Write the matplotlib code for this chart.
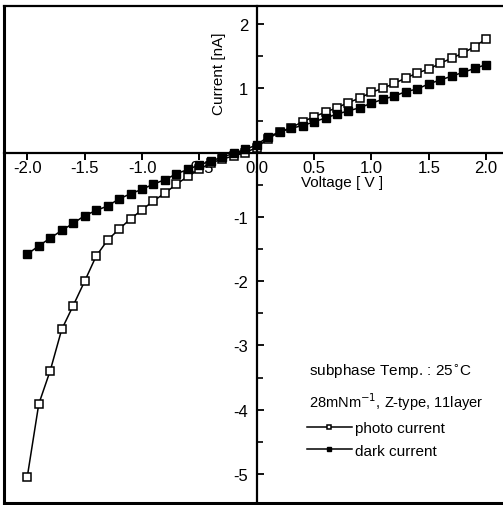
import matplotlib
matplotlib.use("Agg")
import matplotlib.pyplot as plt
from matplotlib.ticker import MultipleLocator

plt.rcParams['font.family'] = ['Liberation Sans', 'DejaVu Sans']
plt.rcParams['axes.unicode_minus'] = False

# voltage steps (V)
voltage = [-2.0, -1.9, -1.8, -1.7, -1.6, -1.5, -1.4, -1.3, -1.2, -1.1, -1.0,
           -0.9, -0.8, -0.7, -0.6, -0.5, -0.4, -0.3, -0.2, -0.1, 0.0,
           0.1, 0.2, 0.3, 0.4, 0.5, 0.6, 0.7, 0.8, 0.9, 1.0,
           1.1, 1.2, 1.3, 1.4, 1.5, 1.6, 1.7, 1.8, 1.9, 2.0]

# currents (nA)
photo_current = [-5.04, -3.91, -3.39, -2.75, -2.38, -2.00, -1.61, -1.36, -1.19, -1.03, -0.89,
                 -0.75, -0.63, -0.49, -0.37, -0.26, -0.16, -0.10, -0.05, 0.00, 0.08,
                 0.22, 0.32, 0.39, 0.48, 0.56, 0.63, 0.70, 0.78, 0.85, 0.94,
                 1.00, 1.08, 1.16, 1.24, 1.30, 1.39, 1.47, 1.55, 1.65, 1.77]
dark_current = [-1.58, -1.45, -1.33, -1.21, -1.10, -0.98, -0.90, -0.83, -0.72, -0.64, -0.57,
                -0.49, -0.42, -0.33, -0.26, -0.19, -0.13, -0.07, -0.01, 0.05, 0.12,
                0.25, 0.32, 0.38, 0.42, 0.48, 0.54, 0.60, 0.65, 0.70, 0.77,
                0.83, 0.88, 0.95, 0.99, 1.07, 1.13, 1.19, 1.25, 1.31, 1.37]

x_ticks = [-2.0, -1.5, -1.0, -0.5, 0.0, 0.5, 1.0, 1.5, 2.0]
x_labels = ['-2.0', '-1.5', '-1.0', '-0.5', '0.0', '0.5', '1.0', '1.5', '2.0']
y_ticks = [-5, -4, -3, -2, -1, 1, 2]

fig = plt.figure(figsize=(5.03, 5.06), dpi=100)
ax = fig.add_axes([0.008, 0.004, 0.992, 0.982])

ax.plot(voltage, photo_current, color='black', lw=1.1, marker='s', ms=5.5,
        mfc='white', mec='black', mew=1.1, label='photo current')
ax.plot(voltage, dark_current, color='black', lw=1.1, marker='s', ms=5.5,
        mfc='black', mec='black', label='dark current')

ax.set_xlim(-2.203, 2.147)
ax.set_ylim(-5.45, 2.28)

# axes crossing at the origin
ax.spines['left'].set_position(('data', 0))
ax.spines['bottom'].set_position(('data', 0))
ax.spines['right'].set_visible(False)
for s in ['left', 'bottom', 'top']:
    ax.spines[s].set_linewidth(1.6)

# outer frame (left and bottom edges)
ax.plot([0, 0], [0, 1], color='black', lw=2.2, transform=ax.transAxes, clip_on=False)
ax.plot([0, 1], [0, 0], color='black', lw=2.2, transform=ax.transAxes, clip_on=False)

ax.set_xticks(x_ticks)
ax.set_xticklabels(x_labels)
ax.set_yticks(y_ticks)
ax.yaxis.set_minor_locator(MultipleLocator(0.5))
ax.tick_params(axis='x', direction='out', length=5, width=1.4, pad=0.5, labelsize=12)
ax.tick_params(axis='y', which='major', direction='in', length=5, width=1.3, pad=6, labelsize=12)
ax.tick_params(axis='y', which='minor', direction='in', length=4, width=1.2)

ax.text(-0.33, 1.25, 'Current [nA]', rotation=90, ha='center', va='center', fontsize=11)
ax.text(0.74, -0.46, 'Voltage [ V ]', ha='center', va='center', fontsize=11)

ax.text(0.46, -3.40, 'subphase Temp. : 25$^{\\circ}$C', ha='left', va='center', fontsize=11)
ax.text(0.46, -3.86, '28mNm$^{-1}$, Z-type, 11layer', ha='left', va='center', fontsize=10.5)

ax.legend(loc='upper left', bbox_to_anchor=(0.44, -4.18), bbox_transform=ax.transData,
          frameon=False, fontsize=11, handlelength=2.9, handletextpad=0.2,
          labelspacing=0.55, markerscale=0.6, borderpad=0, borderaxespad=0)

fig.savefig('out.png', dpi=100)
